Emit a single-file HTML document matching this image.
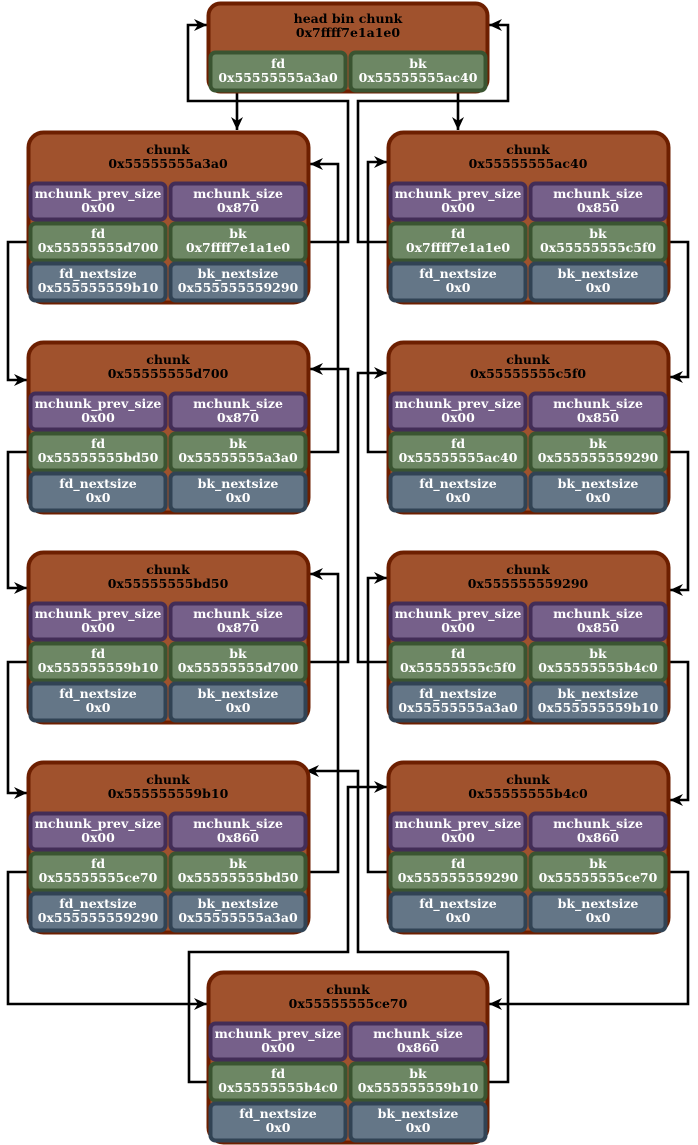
<!DOCTYPE html>
<html><head><meta charset="utf-8"><style>
html,body{margin:0;padding:0;background:#fff;}
svg{display:block;}
text{font-family:"DejaVu Serif","Liberation Serif",serif;font-weight:bold;font-size:12.5px;text-anchor:middle;}
.t{fill:#000;}
.w{fill:#fff;}
.o{fill:#a0522d;stroke:#6d1f00;stroke-width:4;}
.p{fill:#76608a;stroke:#432d57;stroke-width:4;}
.g{fill:#6d8764;stroke:#3a5431;stroke-width:4;}
.s{fill:#647687;stroke:#314354;stroke-width:4;}
.l{fill:none;stroke:#000;stroke-width:2.6;marker-end:url(#a);}
</style></head><body>
<svg width="698" height="1145" viewBox="0 0 698 1145" xmlns="http://www.w3.org/2000/svg">
<defs>
<marker id="a" markerUnits="userSpaceOnUse" markerWidth="14" markerHeight="14" refX="13" refY="7" orient="auto">
<path d="M0,1 L13,7 L0,13 L4,7 Z" fill="#000"/>
</marker>
</defs>

<path class="l" d="M237,93 V130"/>
<path class="l" d="M458,93 V130"/>
<path class="l" d="M310,242 H348 V101 H188 V25 H207"/>
<path class="l" d="M387,242 H358 V101 H508 V25 H489"/>
<path class="l" d="M27,242 H8 V380 H27"/>
<path class="l" d="M27,452 H8 V588 H27"/>
<path class="l" d="M27,662 H8 V793 H27"/>
<path class="l" d="M27,872 H8 V1004 H207"/>
<path class="l" d="M310,452 H338 V164 H310"/>
<path class="l" d="M310,662 H348 V369 H310"/>
<path class="l" d="M310,872 H338 V574 H310"/>
<path class="l" d="M489,1082 H508 V952 H358 V771 H306"/>
<path class="l" d="M670,242 H688 V377 H670"/>
<path class="l" d="M670,452 H688 V590 H670"/>
<path class="l" d="M670,662 H688 V800 H670"/>
<path class="l" d="M670,872 H688 V1004 H489"/>
<path class="l" d="M387,452 H368 V162 H387"/>
<path class="l" d="M387,662 H358 V373 H387"/>
<path class="l" d="M387,872 H368 V578 H387"/>
<path class="l" d="M207,1082 H189 V952 H348 V787 H387"/>

<g transform="translate(207,2)">
<rect class="o" x="1.5" y="1.5" width="279" height="88" rx="12"/>
<text class="t" x="141" y="21">head bin chunk</text>
<text class="t" x="141" y="35">0x7ffff7e1a1e0</text>
<rect class="g" x="3.5" y="50.5" width="135" height="38" rx="5"/>
<rect class="g" x="143.5" y="50.5" width="135" height="38" rx="5"/>
<text class="w" x="71" y="66">fd</text><text class="w" x="71" y="80">0x55555555a3a0</text>
<text class="w" x="211" y="66">bk</text><text class="w" x="211" y="80">0x55555555ac40</text>
</g>

<g transform="translate(27,131)">
<rect class="o" x="1.5" y="1.5" width="280" height="170" rx="15"/>
<text class="t" x="141" y="23">chunk</text><text class="t" x="141" y="37">0x55555555a3a0</text>
<rect class="p" x="3.5" y="52.5" width="135" height="36" rx="5"/><rect class="p" x="143.5" y="52.5" width="135" height="36" rx="5"/>
<rect class="g" x="3.5" y="92.5" width="135" height="37" rx="5"/><rect class="g" x="143.5" y="92.5" width="135" height="37" rx="5"/>
<rect class="s" x="3.5" y="132.5" width="135" height="37" rx="5"/><rect class="s" x="143.5" y="132.5" width="135" height="37" rx="5"/>
<text class="w" x="71" y="67">mchunk_prev_size</text><text class="w" x="71" y="81">0x00</text>
<text class="w" x="211" y="67">mchunk_size</text><text class="w" x="211" y="81">0x870</text>
<text class="w" x="71" y="107">fd</text><text class="w" x="71" y="121">0x55555555d700</text>
<text class="w" x="211" y="107">bk</text><text class="w" x="211" y="121">0x7ffff7e1a1e0</text>
<text class="w" x="71" y="147">fd_nextsize</text><text class="w" x="71" y="161">0x555555559b10</text>
<text class="w" x="211" y="147">bk_nextsize</text><text class="w" x="211" y="161">0x555555559290</text>
</g>

<g transform="translate(27,341)">
<rect class="o" x="1.5" y="1.5" width="280" height="170" rx="15"/>
<text class="t" x="141" y="23">chunk</text><text class="t" x="141" y="37">0x55555555d700</text>
<rect class="p" x="3.5" y="52.5" width="135" height="36" rx="5"/><rect class="p" x="143.5" y="52.5" width="135" height="36" rx="5"/>
<rect class="g" x="3.5" y="92.5" width="135" height="37" rx="5"/><rect class="g" x="143.5" y="92.5" width="135" height="37" rx="5"/>
<rect class="s" x="3.5" y="132.5" width="135" height="37" rx="5"/><rect class="s" x="143.5" y="132.5" width="135" height="37" rx="5"/>
<text class="w" x="71" y="67">mchunk_prev_size</text><text class="w" x="71" y="81">0x00</text>
<text class="w" x="211" y="67">mchunk_size</text><text class="w" x="211" y="81">0x870</text>
<text class="w" x="71" y="107">fd</text><text class="w" x="71" y="121">0x55555555bd50</text>
<text class="w" x="211" y="107">bk</text><text class="w" x="211" y="121">0x55555555a3a0</text>
<text class="w" x="71" y="147">fd_nextsize</text><text class="w" x="71" y="161">0x0</text>
<text class="w" x="211" y="147">bk_nextsize</text><text class="w" x="211" y="161">0x0</text>
</g>

<g transform="translate(27,551)">
<rect class="o" x="1.5" y="1.5" width="280" height="170" rx="15"/>
<text class="t" x="141" y="23">chunk</text><text class="t" x="141" y="37">0x55555555bd50</text>
<rect class="p" x="3.5" y="52.5" width="135" height="36" rx="5"/><rect class="p" x="143.5" y="52.5" width="135" height="36" rx="5"/>
<rect class="g" x="3.5" y="92.5" width="135" height="37" rx="5"/><rect class="g" x="143.5" y="92.5" width="135" height="37" rx="5"/>
<rect class="s" x="3.5" y="132.5" width="135" height="37" rx="5"/><rect class="s" x="143.5" y="132.5" width="135" height="37" rx="5"/>
<text class="w" x="71" y="67">mchunk_prev_size</text><text class="w" x="71" y="81">0x00</text>
<text class="w" x="211" y="67">mchunk_size</text><text class="w" x="211" y="81">0x870</text>
<text class="w" x="71" y="107">fd</text><text class="w" x="71" y="121">0x555555559b10</text>
<text class="w" x="211" y="107">bk</text><text class="w" x="211" y="121">0x55555555d700</text>
<text class="w" x="71" y="147">fd_nextsize</text><text class="w" x="71" y="161">0x0</text>
<text class="w" x="211" y="147">bk_nextsize</text><text class="w" x="211" y="161">0x0</text>
</g>

<g transform="translate(27,761)">
<rect class="o" x="1.5" y="1.5" width="280" height="170" rx="15"/>
<text class="t" x="141" y="23">chunk</text><text class="t" x="141" y="37">0x555555559b10</text>
<rect class="p" x="3.5" y="52.5" width="135" height="36" rx="5"/><rect class="p" x="143.5" y="52.5" width="135" height="36" rx="5"/>
<rect class="g" x="3.5" y="92.5" width="135" height="37" rx="5"/><rect class="g" x="143.5" y="92.5" width="135" height="37" rx="5"/>
<rect class="s" x="3.5" y="132.5" width="135" height="37" rx="5"/><rect class="s" x="143.5" y="132.5" width="135" height="37" rx="5"/>
<text class="w" x="71" y="67">mchunk_prev_size</text><text class="w" x="71" y="81">0x00</text>
<text class="w" x="211" y="67">mchunk_size</text><text class="w" x="211" y="81">0x860</text>
<text class="w" x="71" y="107">fd</text><text class="w" x="71" y="121">0x55555555ce70</text>
<text class="w" x="211" y="107">bk</text><text class="w" x="211" y="121">0x55555555bd50</text>
<text class="w" x="71" y="147">fd_nextsize</text><text class="w" x="71" y="161">0x555555559290</text>
<text class="w" x="211" y="147">bk_nextsize</text><text class="w" x="211" y="161">0x55555555a3a0</text>
</g>

<g transform="translate(387,131)">
<rect class="o" x="1.5" y="1.5" width="280" height="170" rx="15"/>
<text class="t" x="141" y="23">chunk</text><text class="t" x="141" y="37">0x55555555ac40</text>
<rect class="p" x="3.5" y="52.5" width="135" height="36" rx="5"/><rect class="p" x="143.5" y="52.5" width="135" height="36" rx="5"/>
<rect class="g" x="3.5" y="92.5" width="135" height="37" rx="5"/><rect class="g" x="143.5" y="92.5" width="135" height="37" rx="5"/>
<rect class="s" x="3.5" y="132.5" width="135" height="37" rx="5"/><rect class="s" x="143.5" y="132.5" width="135" height="37" rx="5"/>
<text class="w" x="71" y="67">mchunk_prev_size</text><text class="w" x="71" y="81">0x00</text>
<text class="w" x="211" y="67">mchunk_size</text><text class="w" x="211" y="81">0x850</text>
<text class="w" x="71" y="107">fd</text><text class="w" x="71" y="121">0x7ffff7e1a1e0</text>
<text class="w" x="211" y="107">bk</text><text class="w" x="211" y="121">0x55555555c5f0</text>
<text class="w" x="71" y="147">fd_nextsize</text><text class="w" x="71" y="161">0x0</text>
<text class="w" x="211" y="147">bk_nextsize</text><text class="w" x="211" y="161">0x0</text>
</g>

<g transform="translate(387,341)">
<rect class="o" x="1.5" y="1.5" width="280" height="170" rx="15"/>
<text class="t" x="141" y="23">chunk</text><text class="t" x="141" y="37">0x55555555c5f0</text>
<rect class="p" x="3.5" y="52.5" width="135" height="36" rx="5"/><rect class="p" x="143.5" y="52.5" width="135" height="36" rx="5"/>
<rect class="g" x="3.5" y="92.5" width="135" height="37" rx="5"/><rect class="g" x="143.5" y="92.5" width="135" height="37" rx="5"/>
<rect class="s" x="3.5" y="132.5" width="135" height="37" rx="5"/><rect class="s" x="143.5" y="132.5" width="135" height="37" rx="5"/>
<text class="w" x="71" y="67">mchunk_prev_size</text><text class="w" x="71" y="81">0x00</text>
<text class="w" x="211" y="67">mchunk_size</text><text class="w" x="211" y="81">0x850</text>
<text class="w" x="71" y="107">fd</text><text class="w" x="71" y="121">0x55555555ac40</text>
<text class="w" x="211" y="107">bk</text><text class="w" x="211" y="121">0x555555559290</text>
<text class="w" x="71" y="147">fd_nextsize</text><text class="w" x="71" y="161">0x0</text>
<text class="w" x="211" y="147">bk_nextsize</text><text class="w" x="211" y="161">0x0</text>
</g>

<g transform="translate(387,551)">
<rect class="o" x="1.5" y="1.5" width="280" height="170" rx="15"/>
<text class="t" x="141" y="23">chunk</text><text class="t" x="141" y="37">0x555555559290</text>
<rect class="p" x="3.5" y="52.5" width="135" height="36" rx="5"/><rect class="p" x="143.5" y="52.5" width="135" height="36" rx="5"/>
<rect class="g" x="3.5" y="92.5" width="135" height="37" rx="5"/><rect class="g" x="143.5" y="92.5" width="135" height="37" rx="5"/>
<rect class="s" x="3.5" y="132.5" width="135" height="37" rx="5"/><rect class="s" x="143.5" y="132.5" width="135" height="37" rx="5"/>
<text class="w" x="71" y="67">mchunk_prev_size</text><text class="w" x="71" y="81">0x00</text>
<text class="w" x="211" y="67">mchunk_size</text><text class="w" x="211" y="81">0x850</text>
<text class="w" x="71" y="107">fd</text><text class="w" x="71" y="121">0x55555555c5f0</text>
<text class="w" x="211" y="107">bk</text><text class="w" x="211" y="121">0x55555555b4c0</text>
<text class="w" x="71" y="147">fd_nextsize</text><text class="w" x="71" y="161">0x55555555a3a0</text>
<text class="w" x="211" y="147">bk_nextsize</text><text class="w" x="211" y="161">0x555555559b10</text>
</g>

<g transform="translate(387,761)">
<rect class="o" x="1.5" y="1.5" width="280" height="170" rx="15"/>
<text class="t" x="141" y="23">chunk</text><text class="t" x="141" y="37">0x55555555b4c0</text>
<rect class="p" x="3.5" y="52.5" width="135" height="36" rx="5"/><rect class="p" x="143.5" y="52.5" width="135" height="36" rx="5"/>
<rect class="g" x="3.5" y="92.5" width="135" height="37" rx="5"/><rect class="g" x="143.5" y="92.5" width="135" height="37" rx="5"/>
<rect class="s" x="3.5" y="132.5" width="135" height="37" rx="5"/><rect class="s" x="143.5" y="132.5" width="135" height="37" rx="5"/>
<text class="w" x="71" y="67">mchunk_prev_size</text><text class="w" x="71" y="81">0x00</text>
<text class="w" x="211" y="67">mchunk_size</text><text class="w" x="211" y="81">0x860</text>
<text class="w" x="71" y="107">fd</text><text class="w" x="71" y="121">0x555555559290</text>
<text class="w" x="211" y="107">bk</text><text class="w" x="211" y="121">0x55555555ce70</text>
<text class="w" x="71" y="147">fd_nextsize</text><text class="w" x="71" y="161">0x0</text>
<text class="w" x="211" y="147">bk_nextsize</text><text class="w" x="211" y="161">0x0</text>
</g>

<g transform="translate(207,971)">
<rect class="o" x="1.5" y="1.5" width="279" height="170" rx="15"/>
<text class="t" x="141" y="23">chunk</text><text class="t" x="141" y="37">0x55555555ce70</text>
<rect class="p" x="3.5" y="52.5" width="135" height="36" rx="5"/><rect class="p" x="143.5" y="52.5" width="135" height="36" rx="5"/>
<rect class="g" x="3.5" y="92.5" width="135" height="37" rx="5"/><rect class="g" x="143.5" y="92.5" width="135" height="37" rx="5"/>
<rect class="s" x="3.5" y="132.5" width="135" height="37" rx="5"/><rect class="s" x="143.5" y="132.5" width="135" height="37" rx="5"/>
<text class="w" x="71" y="67">mchunk_prev_size</text><text class="w" x="71" y="81">0x00</text>
<text class="w" x="211" y="67">mchunk_size</text><text class="w" x="211" y="81">0x860</text>
<text class="w" x="71" y="107">fd</text><text class="w" x="71" y="121">0x55555555b4c0</text>
<text class="w" x="211" y="107">bk</text><text class="w" x="211" y="121">0x555555559b10</text>
<text class="w" x="71" y="147">fd_nextsize</text><text class="w" x="71" y="161">0x0</text>
<text class="w" x="211" y="147">bk_nextsize</text><text class="w" x="211" y="161">0x0</text>
</g>
</svg>
</body></html>
